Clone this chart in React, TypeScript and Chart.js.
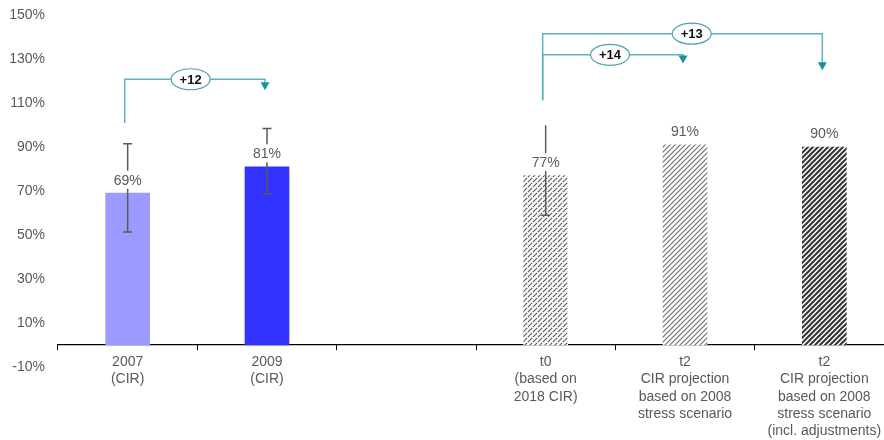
import React, { useEffect, useRef } from "react";
import { Chart, registerables } from "chart.js";

Chart.register(...registerables);

const FONT = '"Liberation Sans", Arial, Helvetica, sans-serif';

const categories: (string | string[])[] = [
  ["2007", "(CIR)"],
  ["2009", "(CIR)"],
  "",
  ["t0", "(based on", "2018 CIR)"],
  ["t2", "CIR projection", "based on 2008", "stress scenario"],
  ["t2", "CIR projection", "based on 2008", "stress scenario", "(incl. adjustments)"],
];
const values: (number | null)[] = [69, 81, null, 77, 91, 90];
const errLow: (number | null)[] = [51.4, 68.8, null, 59, null, null];
const errHigh: (number | null)[] = [91.5, 98.4, null, 99.9, null, null];
const errTopCap: boolean[] = [true, true, false, false, false, false];
const yTicks = [-10, 10, 30, 50, 70, 90, 110, 130, 150];

const brackets = [
  { from: 3, to: 5, start: 111.2, level: 141.5, tip: 124.9, label: "+13", at: 0.533 },
  { from: 3, to: 4, start: 111.2, level: 131.9, tip: 128, label: "+14", at: 0.48 },
  { from: 0, to: 1, start: 100.9, level: 120.8, tip: 115.8, label: "+12", at: 0.47 },
];

function makePattern(kind: "dashed" | "light" | "dark"): CanvasPattern | string {
  const size = 10;
  const c = document.createElement("canvas");
  c.width = size;
  c.height = size;
  const g = c.getContext("2d");
  if (!g) return "#888";
  g.fillStyle = "#fff";
  g.fillRect(0, 0, size, size);
  if (kind === "dashed") {
    g.strokeStyle = "#555";
    g.lineWidth = 1.1;
  } else if (kind === "light") {
    g.strokeStyle = "#6a6a6a";
    g.lineWidth = 1.1;
  } else {
    g.strokeStyle = "#333";
    g.lineWidth = 2;
  }
  const step = 5;
  for (let k = -size; k <= size * 2; k += step) {
    g.beginPath();
    g.moveTo(k - 1, size + 1);
    g.lineTo(k + size + 1, -1);
    g.stroke();
  }
  if (kind === "dashed") {
    g.fillStyle = "#fff";
    for (let k = 0; k < size; k += 5) {
      for (let j = 0; j < size; j += 5) {
        g.fillRect(k + 2, j + 2, 1, 1);
      }
    }
  }
  return g.createPattern(c, "repeat") || "#888";
}

const overlay = {
  id: "overlay",
  afterDatasetsDraw(chart: any) {
    const ctx: CanvasRenderingContext2D = chart.ctx;
    const xs = chart.scales.x;
    const ys = chart.scales.y;
    ctx.save();
    // error bars
    ctx.strokeStyle = "#5a5a5a";
    ctx.lineWidth = 1.5;
    errLow.forEach((lo, i) => {
      const hi = errHigh[i];
      if (lo == null || hi == null) return;
      const cx = xs.getPixelForValue(i);
      const yl = ys.getPixelForValue(lo);
      const yh = ys.getPixelForValue(hi);
      ctx.beginPath();
      ctx.moveTo(cx, yh);
      ctx.lineTo(cx, yl);
      ctx.moveTo(cx - 4.5, yl);
      ctx.lineTo(cx + 4.5, yl);
      if (errTopCap[i]) {
        ctx.moveTo(cx - 4.5, yh);
        ctx.lineTo(cx + 4.5, yh);
      }
      ctx.stroke();
    });
    // value labels
    ctx.font = `14px ${FONT}`;
    ctx.textAlign = "center";
    ctx.textBaseline = "middle";
    values.forEach((v, i) => {
      if (v == null) return;
      const cx = xs.getPixelForValue(i);
      const ty = ys.getPixelForValue(v) - 13.5;
      const t = `${v}%`;
      const w = ctx.measureText(t).width;
      ctx.fillStyle = "#fff";
      ctx.fillRect(cx - w / 2 - 2, ty - 9, w + 4, 18);
      ctx.fillStyle = "#595959";
      ctx.fillText(t, cx, ty + 1);
    });
    // brackets
    brackets.forEach((b) => {
      const x0 = xs.getPixelForValue(b.from) - 3;
      const x1 = xs.getPixelForValue(b.to) - 2;
      const yS = ys.getPixelForValue(b.start);
      const yL = ys.getPixelForValue(b.level);
      const yT = ys.getPixelForValue(b.tip);
      ctx.strokeStyle = "#62b1bc";
      ctx.lineWidth = 1.5;
      ctx.beginPath();
      ctx.moveTo(x0, yS);
      ctx.lineTo(x0, yL);
      ctx.lineTo(x1, yL);
      ctx.lineTo(x1, yT - 6);
      ctx.stroke();
      ctx.fillStyle = "#1d8ea8";
      ctx.beginPath();
      ctx.moveTo(x1 - 4.5, yT - 8);
      ctx.lineTo(x1 + 4.5, yT - 8);
      ctx.lineTo(x1, yT);
      ctx.closePath();
      ctx.fill();
      const ex = x0 + (x1 - x0) * b.at;
      ctx.beginPath();
      ctx.ellipse(ex, yL, 19.5, 10.5, 0, 0, Math.PI * 2);
      ctx.fillStyle = "#fff";
      ctx.fill();
      ctx.strokeStyle = "#4fa3b0";
      ctx.lineWidth = 1.2;
      ctx.stroke();
      ctx.fillStyle = "#111";
      ctx.font = `bold 13px ${FONT}`;
      ctx.fillText(b.label, ex, yL + 1);
    });
    ctx.restore();
  },
};

export default function App() {
  const ref = useRef<HTMLCanvasElement | null>(null);
  useEffect(() => {
    if (!ref.current) return;
    Chart.defaults.font.family = FONT;
    const colors = [
      "#9b9bff",
      "#3333ff",
      "rgba(0,0,0,0)",
      makePattern("dashed"),
      makePattern("light"),
      makePattern("dark"),
    ];
    const chart = new Chart(ref.current, {
      type: "bar",
      data: {
        labels: categories,
        datasets: [
          {
            data: values,
            backgroundColor: colors as any,
            borderWidth: 0,
            barThickness: 44,
          },
        ],
      },
      options: {
        responsive: false,
        animation: false,
        layout: { padding: { left: 0, top: 15, right: 6, bottom: 73 } },
        plugins: { legend: { display: false }, tooltip: { enabled: false } },
        scales: {
          x: {
            type: "category",
            position: { y: 0 } as any,
            offset: true,
            grid: {
              display: true,
              drawOnChartArea: false,
              drawTicks: true,
              tickLength: 5,
              color: "#000",
              lineWidth: 1,
              offset: true,
            },
            border: { display: true, color: "#000", width: 1.2 },
            ticks: {
              autoSkip: false,
              maxRotation: 0,
              color: "#595959",
              font: { size: 14, lineHeight: 1.22 },
              padding: 4,
            },
          },
          y: {
            min: -10,
            max: 150,
            grid: { display: false, drawTicks: false },
            border: { display: false },
            afterBuildTicks: (s: any) => {
              s.ticks = yTicks.map((v) => ({ value: v }));
            },
            afterFit: (s: any) => {
              s.width = 58;
              s.paddingTop = 0;
              s.paddingBottom = 0;
            },
            ticks: {
              color: "#595959",
              font: { size: 14 },
              padding: 13,
              callback: (v: any) => `${v}%`,
            },
          },
        },
      },
      plugins: [overlay],
    });
    return () => chart.destroy();
  }, []);
  return (
    <div
      style={{
        position: "fixed",
        left: 0,
        top: 0,
        width: 884,
        height: 440,
        overflow: "hidden",
        background: "#fff",
      }}
    >
      <canvas ref={ref} width={900} height={440} style={{ display: "block" }} />
    </div>
  );
}
